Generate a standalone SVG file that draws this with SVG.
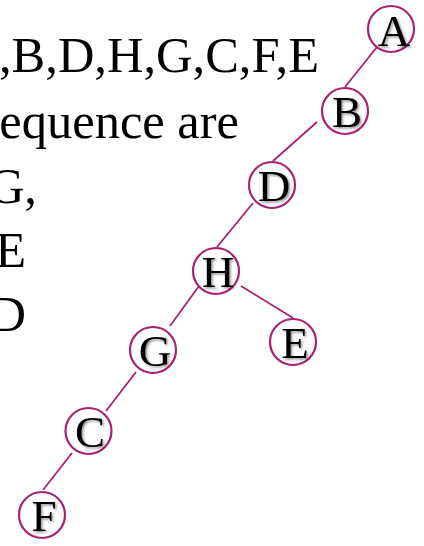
<svg xmlns="http://www.w3.org/2000/svg" width="424" height="546" viewBox="0 0 424 546">
<defs>
<style>
.txt{font-family:"Liberation Serif","Times New Roman",serif;font-size:50.5px;fill:#000}
.node circle{fill:#fff;stroke:#A8226E;stroke-width:2.2}
.node text{font-family:"Liberation Serif","Times New Roman",serif;font-size:45px;fill:#000;text-anchor:middle;filter:url(#sh)}
.edges line{stroke:#A8226E;stroke-width:1.8}
</style>
<filter id="sh" x="-30%" y="-30%" width="160%" height="160%">
<feDropShadow dx="1.5" dy="1.5" stdDeviation="1" flood-color="#000" flood-opacity="0.45"/>
</filter>
</defs>
<rect width="424" height="546" fill="#fff"/>
<g id="text-left" class="txt">
<text x="319" y="72" text-anchor="end">,B,D,H,G,C,F,E</text>
<text x="239" y="138" text-anchor="end">equence are</text>
<text x="37" y="203" text-anchor="end">G,</text>
<text x="26" y="267" text-anchor="end">E</text>
<text x="26" y="331" text-anchor="end">D</text>
</g>
<g id="edges" class="edges">
<line x1="377" y1="47" x2="345" y2="87"/>
<line x1="317" y1="122" x2="273" y2="161"/>
<line x1="253" y1="203" x2="217" y2="247"/>
<line x1="199" y1="286" x2="170" y2="326"/>
<line x1="241" y1="286" x2="293" y2="318"/>
<line x1="136" y1="372" x2="106" y2="411"/>
<line x1="72" y1="453" x2="43" y2="490"/>
</g>
<g id="node-A" class="node"><circle cx="391" cy="29" r="23"/><text x="394" y="46">A</text></g>
<g id="node-B" class="node"><circle cx="345" cy="111" r="23"/><text x="347" y="127">B</text></g>
<g id="node-D" class="node"><circle cx="272" cy="185" r="23"/><text x="274" y="201">D</text></g>
<g id="node-H" class="node"><circle cx="216" cy="271" r="23"/><text x="218" y="287">H</text></g>
<g id="node-E" class="node"><circle cx="293" cy="342" r="23"/><text x="295" y="358">E</text></g>
<g id="node-G" class="node"><circle cx="153" cy="350" r="23"/><text x="155" y="366">G</text></g>
<g id="node-C" class="node"><circle cx="88.5" cy="431" r="23"/><text x="90" y="447">C</text></g>
<g id="node-F" class="node"><circle cx="42" cy="515" r="23"/><text x="44" y="531">F</text></g>
</svg>
